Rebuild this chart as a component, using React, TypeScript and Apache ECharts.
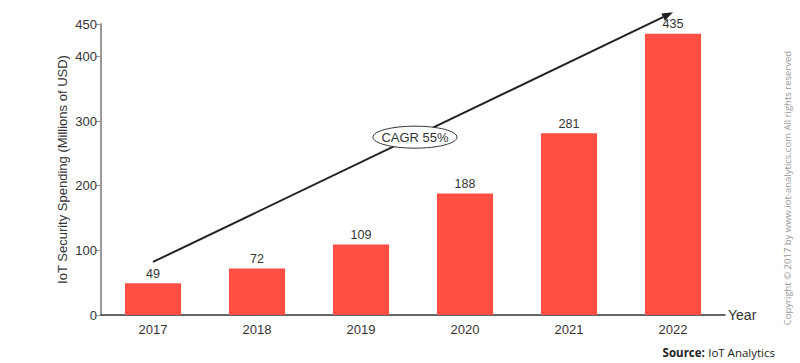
import React, { useEffect, useRef } from "react";
import * as echarts from "echarts";

const years = ["2017", "2018", "2019", "2020", "2021", "2022"];
const spending = [49, 72, 109, 188, 281, 435];
const yTicks = [0, 100, 200, 300, 400, 450];
const trendFrom = { year: "2017", value: 82 };
const trendTo = { year: "2022", value: 468 };
const cagrText = "CAGR 55%";

export default function App() {
  const ref = useRef<HTMLDivElement>(null);
  useEffect(() => {
    if (!ref.current) return;
    const chart = echarts.init(ref.current, undefined, { renderer: "svg" });
    const font = "'Liberation Sans', Arial, sans-serif";
    chart.setOption({
      animation: false,
      textStyle: { fontFamily: font },
      grid: { left: 101, right: 75, top: 24, bottom: 48, containLabel: false },
      xAxis: {
        type: "category",
        data: years,
        name: "Year",
        nameLocation: "end",
        nameGap: 3,
        nameTextStyle: { color: "#333", fontSize: 14, fontFamily: font, verticalAlign: "middle", padding: [6, 0, 0, 0] },
        axisLine: { lineStyle: { color: "#333", width: 1.5 } },
        axisTick: { show: false },
        axisLabel: { color: "#333", fontSize: 13, margin: 8, fontFamily: font },
      },
      yAxis: {
        type: "value",
        min: 0,
        max: 450,
        interval: 100,
        name: "IoT Security Spending (Millions of USD)",
        nameLocation: "middle",
        nameGap: 32,
        nameMoveOverlap: false,
        nameTextStyle: { color: "#333", fontSize: 13, fontFamily: font },
        axisLine: { show: true, lineStyle: { color: "#999", width: 2 } },
        axisTick: { show: true, length: 5, lineStyle: { color: "#999" } },
        axisLabel: {
          color: "#333",
          fontSize: 13,
          margin: 4,
          fontFamily: font,
          showMaxLabel: true,
          formatter: (v: number) => (yTicks.includes(v) ? String(v) : ""),
        },
        splitLine: { show: false },
      },
      series: [
        {
          type: "bar",
          data: spending,
          barWidth: "54%",
          itemStyle: { color: "#FF4F44" },
          label: { show: true, position: "top", distance: 3, color: "#333", fontSize: 12.5, fontFamily: font },
        },
      ],
    });
    const p0 = chart.convertToPixel({ gridIndex: 0 }, [trendFrom.year, trendFrom.value]) as number[];
    const p1 = chart.convertToPixel({ gridIndex: 0 }, [trendTo.year, trendTo.value]) as number[];
    const dx = p1[0] - p0[0];
    const dy = p1[1] - p0[1];
    const len = Math.sqrt(dx * dx + dy * dy);
    const ux = dx / len;
    const uy = dy / len;
    const hl = 11;
    const hw = 4;
    const bx = p1[0] - ux * hl;
    const by = p1[1] - uy * hl;
    const mx = (p0[0] + p1[0]) / 2;
    const my = (p0[1] + p1[1]) / 2;
    chart.setOption({
      graphic: [
        {
          type: "text",
          right: 25,
          bottom: 5,
          style: {
            rich: {
              b: { fontWeight: "bold", fontSize: 11.5, fill: "#222", fontFamily: "'Open Sans', sans-serif" },
              n: { fontSize: 11.5, fill: "#222", fontFamily: "'Open Sans', sans-serif" },
            },
            text: "{b|Source:} {n|IoT Analytics}",
          },
        },
        {
          type: "text",
          x: 787,
          y: 188,
          rotation: Math.PI / 2,
          style: {
            text: "Copyright © 2017 by www.iot-analytics.com All rights reserved",
            fontSize: 9.5,
            fill: "#999",
            fontFamily: "'Open Sans', sans-serif",
            align: "center",
            verticalAlign: "middle",
          },
        },
        {
          type: "line",
          shape: { x1: p0[0], y1: p0[1], x2: bx, y2: by },
          style: { stroke: "#222", lineWidth: 2 },
        },
        {
          type: "polygon",
          shape: {
            points: [
              [p1[0], p1[1]],
              [bx - uy * hw, by + ux * hw],
              [bx + uy * hw, by - ux * hw],
            ],
          },
          style: { fill: "#222" },
        },
        {
          type: "ellipse",
          shape: { cx: mx + 2, cy: my, rx: 42, ry: 11 },
          style: { fill: "#fff", stroke: "#333", lineWidth: 1 },
        },
        {
          type: "text",
          x: mx + 2,
          y: my,
          style: { text: cagrText, fontSize: 13, fill: "#333", fontFamily: font, align: "center", verticalAlign: "middle" },
        },
      ],
    });
    return () => chart.dispose();
  }, []);
  return <div ref={ref} style={{ width: 800, height: 363, position: "absolute", left: 0, top: 0 }} />;
}
